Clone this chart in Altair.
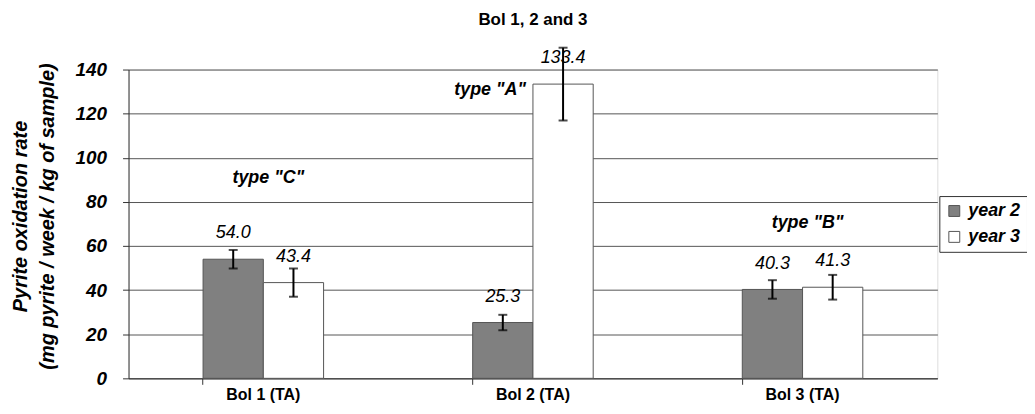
import altair as alt
import pandas as pd

categories = ["Bol 1 (TA)", "Bol 2 (TA)", "Bol 3 (TA)"]
series = ["year 2", "year 3"]
year2 = [54.0, 25.3, 40.3]
year3 = [43.4, 133.4, 41.3]
err2 = [4.2, 3.5, 4.2]
err3 = [6.4, 16.5, 5.6]
label2 = ["54.0", "25.3", "40.3"]
label3 = ["43.4", "133.4", "41.3"]

ann_text = ['type "C"', 'type "A"', 'type "B"']
ann_cat = ["Bol 1 (TA)", "Bol 2 (TA)", "Bol 3 (TA)"]
ann_y = [90.8, 130.7, 70.5]

rows = []
for i, c in enumerate(categories):
    rows.append(dict(cat=c, s=series[0], v=year2[i], lo=year2[i] - err2[i], hi=year2[i] + err2[i], lab=label2[i]))
    rows.append(dict(cat=c, s=series[1], v=year3[i], lo=year3[i] - err3[i], hi=year3[i] + err3[i], lab=label3[i]))
df = pd.DataFrame(rows)
ann = pd.DataFrame(dict(t=ann_text, cat=ann_cat, y=ann_y))

FONT = "Liberation Sans"

x = alt.X("cat:N", sort=categories, title=None,
          scale=alt.Scale(paddingInner=0.553, paddingOuter=0.2765),
          axis=alt.Axis(bandPosition=0, labelAngle=0, tickSize=6, tickColor="#333",
                        domainColor="#333", labelFont=FONT, labelFontSize=16,
                        labelFontWeight="bold", labelColor="#000", labelPadding=2, grid=False))
y = alt.Y("v:Q", scale=alt.Scale(domain=[0, 140], nice=False),
          axis=alt.Axis(values=list(range(0, 141, 20)), tickSize=6, tickColor="#333",
                        domainColor="#333", gridColor="#555", labelFont=FONT, labelFontSize=19,
                        labelFontStyle="italic", labelFontWeight="bold", labelColor="#000",
                        labelPadding=16,
                        title=["Pyrite oxidation rate", "(mg pyrite / week / kg of sample)"],
                        titleFont=FONT, titleFontSize=20, titleFontStyle="italic",
                        titleFontWeight="bold", titleColor="#000", titleAngle=270,
                        titleAlign="center", titleBaseline="alphabetic",
                        titleX=-102, titleY=147, titleLineHeight=27))
xo = alt.XOffset("s:N", sort=series)
color = alt.Color("s:N", sort=series,
                  scale=alt.Scale(domain=series, range=["#808080", "#ffffff"]),
                  legend=alt.Legend(title=None, orient="none", legendX=814, legendY=127,
                                    strokeColor="#333", padding=6, fillColor="#fff",
                                    symbolType="square", symbolSize=120, symbolStrokeColor="#555",
                                    symbolStrokeWidth=1, labelFont=FONT, labelFontSize=18,
                                    labelFontStyle="italic", labelFontWeight="bold",
                                    labelColor="#000", rowPadding=8, labelOffset=5))

base = alt.Chart(df)
bars = base.mark_bar(stroke="#555", strokeWidth=1).encode(x=x, y=y, xOffset=xo, color=color)
errs = base.mark_rule(color="#000", strokeWidth=2).encode(x=x, xOffset=xo, y="lo:Q", y2="hi:Q")
cap_lo = base.mark_tick(color="#000", thickness=2, size=9).encode(x=x, xOffset=xo, y="lo:Q")
cap_hi = base.mark_tick(color="#000", thickness=2, size=9).encode(x=x, xOffset=xo, y="hi:Q")
labels = base.mark_text(font=FONT, fontSize=18, fontStyle="italic", fontWeight="normal",
                        color="#000", baseline="middle", dy=-26).encode(
    x=x, xOffset=xo, y="v:Q", text="lab:N")

annA = alt.Chart(ann).transform_filter(alt.datum.t == 'type "A"')
annO = alt.Chart(ann).transform_filter(alt.datum.t != 'type "A"')
ann_o = annO.mark_text(font=FONT, fontSize=18, fontStyle="italic", fontWeight="bold",
                       color="#000", baseline="middle", dx=5).encode(
    x=alt.X("cat:N", sort=categories), y="y:Q", text="t:N")
ann_a = annA.mark_text(font=FONT, fontSize=18, fontStyle="italic", fontWeight="bold",
                       color="#000", baseline="middle", dx=-43).encode(
    x=alt.X("cat:N", sort=categories), y="y:Q", text="t:N")

chart = alt.layer(bars, errs, cap_lo, cap_hi, labels, ann_o, ann_a).properties(
    width=812, height=310,
    autosize=alt.AutoSizeParams(type="none"),
    padding={"left": 121, "top": 61, "right": 90, "bottom": 30},
    title=alt.TitleParams("Bol 1, 2 and 3", font=FONT, fontSize=17, fontWeight="bold",
                          color="#000", anchor="middle", offset=18),
).configure_view(stroke="#666", strokeWidth=1).configure(background="#ffffff")

chart.save("out.html", embed_options={"renderer": "svg", "actions": False})
